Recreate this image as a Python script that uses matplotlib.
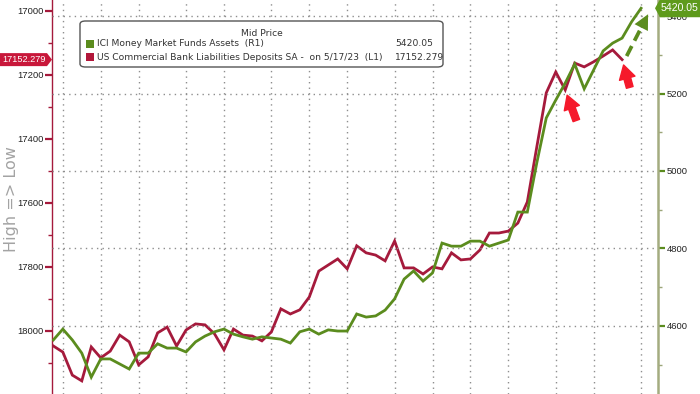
import numpy as np
import pandas as pd
import matplotlib
matplotlib.use("Agg")
import matplotlib.pyplot as plt
from matplotlib.patches import FancyBboxPatch, Rectangle, Polygon
from matplotlib.lines import Line2D
from matplotlib.transforms import IdentityTransform

# ---------------- data ----------------
deposits = [18047, 18066, 18138, 18156, 18050, 18084, 18063, 18013, 18034, 18106,
            18081, 18006, 17988, 18047, 17997, 17978, 17981, 18009, 18059, 17994,
            18013, 18016, 18031, 18003, 17931, 17947, 17934, 17894, 17813, 17794,
            17775, 17806, 17734, 17756, 17763, 17781, 17719, 17803, 17803, 17822,
            17800, 17806, 17756, 17778, 17775, 17747, 17694, 17694, 17688, 17663,
            17597, 17425, 17256, 17191, 17247, 17163, 17175, 17159, 17141, 17122,
            17152.279]
mmf = [4564, 4592, 4564, 4530, 4468, 4515, 4515, 4502, 4489, 4530,
       4530, 4554, 4543, 4543, 4533, 4559, 4574, 4585, 4592, 4579,
       4572, 4566, 4572, 4569, 4566, 4556, 4585, 4592, 4579, 4590,
       4587, 4587, 4631, 4623, 4626, 4641, 4670, 4721, 4742, 4716,
       4737, 4814, 4806, 4806, 4819, 4819, 4806, 4814, 4822, 4894,
       4894, 5021, 5137, 5183, 5227, 5276, 5212, 5261, 5310, 5330,
       5343, 5385, 5420.05]
dates = pd.date_range(end="2023-05-31", periods=len(mmf), freq="W-WED")
dep_dates = dates[:len(deposits)]

left_ticks = [17000, 17200, 17400, 17600, 17800, 18000]
left_minor = [17100, 17300, 17500, 17700, 17900, 18100]
right_ticks = [4600, 4800, 5000, 5200, 5400]
right_minor = [4500, 4700, 4900, 5100, 5300]

legend_title = "Mid Price"
mmf_label = "ICI Money Market Funds Assets  (R1)"
dep_label = "US Commercial Bank Liabilities Deposits SA -  on 5/17/23  (L1)"
ylabel_text = "High => Low"

RED = "#A51A3C"
GREEN = "#5B8C1E"
TAG_RED = "#C8173A"
TAG_GREEN = "#5E9A1C"
ARROW_RED = "#F5192B"
GRID = "#8E8E8E"
FONT = ["DejaVu Sans"]
NUMFONT = ["Liberation Sans", "DejaVu Sans"]

W, H = 700, 394
fig = plt.figure(figsize=(7, 3.94), dpi=100)
ax = fig.add_axes([52 / W, 0, 606 / W, 1])
ax2 = ax.twinx()

# month-end gridlines (last weekly observation of each month)
ser = pd.Series(dates)
month_ends = ser[ser.dt.month != ser.shift(-1).dt.month].tolist()

ax.plot(dep_dates, deposits, color=RED, lw=2.0, solid_joinstyle="miter", zorder=3)
ax2.plot(dates, mmf, color=GREEN, lw=2.0, solid_joinstyle="miter", zorder=3)

ax.set_xlim(dates[0] - pd.Timedelta(days=1), dates[-1] + pd.Timedelta(days=12.5))
ax.set_ylim(18197, 16966)
ax2.set_ylim(4424.5, 5441.3)

ax.set_xticks(month_ends)
ax.tick_params(axis="x", length=0, labelbottom=False)
ax.grid(axis="x", color=GRID, ls=(0, (1, 3)), lw=1.0)
ax2.set_yticks(right_ticks)
ax2.set_yticks(right_minor, minor=True)
ax2.grid(axis="y", which="major", color=GRID, ls=(0, (1, 3)), lw=1.0)
ax2.set_axisbelow(True)

ax.set_yticks(left_ticks)
ax.set_yticks(left_minor, minor=True)
ax.set_yticklabels([str(t) for t in left_ticks], fontfamily=NUMFONT)
ax2.set_yticklabels([str(t) for t in right_ticks], fontfamily=NUMFONT)
ax.tick_params(axis="y", which="major", direction="out", length=5, width=1.6,
               color=RED, labelsize=6.8, labelcolor="#222222", pad=1)
ax.tick_params(axis="y", which="minor", direction="out", length=3, width=1,
               color=RED)
ax2.tick_params(axis="y", which="major", direction="out", length=5, width=1.6,
                color=GREEN, labelsize=6.8, labelcolor="#222222", pad=1)
ax2.tick_params(axis="y", which="minor", direction="out", length=3, width=1,
                color="#9CA67A")

for a in (ax, ax2):
    a.spines["top"].set_visible(False)
    a.spines["bottom"].set_visible(False)
ax.spines["left"].set_color(RED)
ax.spines["left"].set_linewidth(1.0)
ax.spines["right"].set_visible(False)
ax2.spines["left"].set_visible(False)
ax2.spines["right"].set_color("#A4AC80")
ax2.spines["right"].set_linewidth(1.8)

fig.text(12 / W, 1 - 199 / H, ylabel_text, rotation=90, ha="center", va="center",
         fontsize=11.5, color="#A3A3A3", fontfamily=FONT)

# ---------------- legend box ----------------
def fx(x):
    return x / W

def fy(y):
    return 1 - y / H

box = FancyBboxPatch((fx(80), fy(67)), fx(443) - fx(80), fy(21) - fy(67),
                     boxstyle="round,pad=0,rounding_size=0.008",
                     transform=fig.transFigure, facecolor="white",
                     edgecolor="#555555", lw=1.0, zorder=5)
fig.add_artist(box)
fig.text(fx(262), fy(33), legend_title, ha="center", va="center", fontsize=6.6,
         color="#333333", fontfamily=FONT, zorder=6)
for yy, col, lab, val in [(44, GREEN, mmf_label, f"{mmf[-1]:.2f}"),
                          (57, "#B2173A", dep_label, f"{deposits[-1]:.3f}")]:
    fig.add_artist(Rectangle((fx(86), fy(yy + 4)), fx(8), fy(yy - 4) - fy(yy + 4),
                             transform=fig.transFigure, facecolor=col,
                             edgecolor="none", zorder=6))
    fig.text(fx(97), fy(yy), lab, ha="left", va="center", fontsize=6.6,
             color="#333333", fontfamily=FONT, zorder=6)
    fig.text(fx(395), fy(yy), val, ha="left", va="center", fontsize=6.6,
             color="#333333", fontfamily=FONT, zorder=6)

# ---------------- annotation arrows ----------------
red_style = "simple,head_length=0.9,head_width=1.05,tail_width=0.45"
ax.annotate("", xy=(dep_dates[54], deposits[54]), xytext=(8, -22),
            textcoords="offset points",
            arrowprops=dict(arrowstyle=red_style, color=ARROW_RED,
                            shrinkA=0, shrinkB=4, mutation_scale=11),
            zorder=7)
ax.annotate("", xy=(dep_dates[60], deposits[60]), xytext=(5.5, -20),
            textcoords="offset points",
            arrowprops=dict(arrowstyle=red_style, color=ARROW_RED,
                            shrinkA=0, shrinkB=4, mutation_scale=11),
            zorder=7)

# green dashed arrow (display pixels, anchored at the last MMF point)
lx, ly = ax2.transData.transform((matplotlib.dates.date2num(dates[-1]), mmf[-1]))
tip = np.array([lx + 7.0, ly - 6.0])
u = np.array([21.0, 41.0]); u /= np.hypot(*u)
nrm = np.array([-u[1], u[0]])
base = tip - 15 * u
tail = tip - 47 * u
fig.add_artist(Line2D([tail[0], base[0] + 1.5 * u[0]], [tail[1], base[1] + 1.5 * u[1]],
                      transform=IdentityTransform(), color=GREEN, lw=2.7,
                      ls=(0, (3.0, 1.6)), solid_capstyle="butt",
                      dash_capstyle="butt", zorder=7))
fig.add_artist(Polygon([tip, base + 7.5 * nrm, base - 7.5 * nrm], closed=True,
                       transform=IdentityTransform(), facecolor=GREEN,
                       edgecolor="none", zorder=7))

# ---------------- value tags ----------------
yl = ax.transData.transform((0, deposits[-1]))[1]
fig.add_artist(Polygon([(0, yl - 6.5), (47, yl - 6.5), (52, yl), (47, yl + 6.5), (0, yl + 6.5)],
                       closed=True, transform=IdentityTransform(), facecolor=TAG_RED,
                       edgecolor="none", zorder=8))
fig.text(24 / W, yl / H, f"{deposits[-1]:.3f}", ha="center", va="center", fontsize=6.6,
         color="white", fontfamily=NUMFONT, zorder=9)

yr = ax2.transData.transform((0, mmf[-1]))[1]
fig.add_artist(Polygon([(655, yr), (660, yr + 9), (700, yr + 9), (700, yr - 9), (660, yr - 9)],
                       closed=True, transform=IdentityTransform(), facecolor=TAG_GREEN,
                       edgecolor="none", zorder=8))
fig.text(680 / W, yr / H, f"{mmf[-1]:.2f}", ha="center", va="center", fontsize=7.6,
         color="white", fontfamily=NUMFONT, zorder=9)

fig.savefig("out.png", dpi=100)
